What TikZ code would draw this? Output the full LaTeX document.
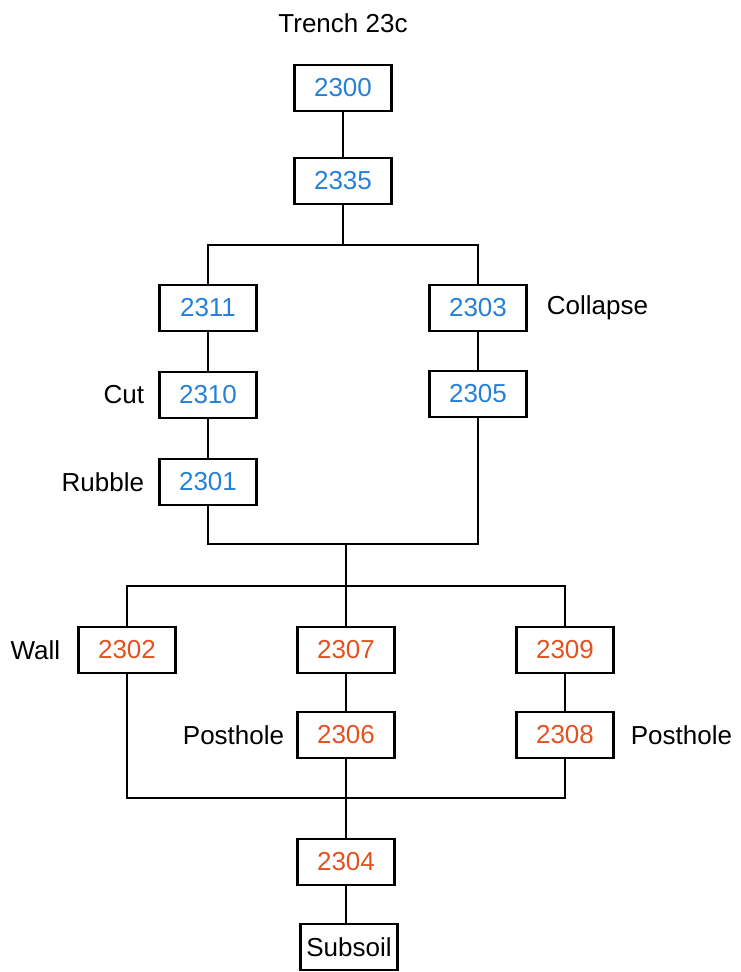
\documentclass[tikz,border=0pt]{standalone}
\usepackage{fontspec}
\setmainfont{Liberation Sans}
\usetikzlibrary{positioning}
\definecolor{ctxblue}{RGB}{38,128,216}
\definecolor{ctxred}{RGB}{226,82,32}
\newcommand*{\bw }{97pt}
\newcommand*{\bh }{46pt}
\newcommand*{\lw }{2.4pt}
\newcommand*{\gap}{13pt}
\tikzset{
    unit/.style    = {draw, line width=\lw, minimum width=\bw, minimum height=\bh, inner sep=0pt},
    blueunit/.style= {unit, text=ctxblue},
    redunit/.style = {unit, text=ctxred},
    note/.style    = {inner sep=0pt}
}

\begin{document}
\begin{tikzpicture}[x=1pt, y=-1pt, font=\fontsize{26}{31}\selectfont, line width=\lw]
        \useasboundingbox (0,0) rectangle (740,972);
        \node [note] (title) at (343, 23) {Trench 23c};
        \node [blueunit] (u2300) at (343, 88) {2300};
        \node [blueunit] (u2335) at (343,181) {2335};
        \node [blueunit] (u2311) at (208,308) {2311};
        \node [blueunit] (u2303) at (478,308) {2303};
        \node [blueunit] (u2310) at (208,395) {2310};
        \node [blueunit] (u2305) at (478,394) {2305};
        \node [blueunit] (u2301) at (208,482) {2301};
        \node [redunit]  (u2302) at (127,650) {2302};
        \node [redunit]  (u2307) at (346,650) {2307};
        \node [redunit]  (u2309) at (565,650) {2309};
        \node [redunit]  (u2306) at (346,735) {2306};
        \node [redunit]  (u2308) at (565,735) {2308};
        \node [redunit]  (u2304) at (346,862) {2304};
        \node [unit]     (subsoil) at (349,947) {Subsoil};
        % side notes
        \node [note, right=18pt of u2303] (collapse) {Collapse};
        \node [note, left=\gap of u2310]  (cut)      {Cut};
        \node [note, left=\gap of u2301]  (rubble)   {Rubble};
        \node [note, left=16pt of u2302]  (wall)     {Wall};
        \node [note, left=11pt of u2306]  (ph2306)   {Posthole};
        \node [note, right=15pt of u2308] (ph2308)   {Posthole};
        % splits and joins
        \coordinate (s1) at (343,245);
        \coordinate (j1) at (346,544);
        \coordinate (s2) at (346,586);
        \coordinate (j2) at (346,798);
        \draw (u2300) -- (u2335) -- (s1);
        \draw (u2311.north) |- (s1) -| (u2303.north);
        \draw (u2311) -- (u2310) -- (u2301);
        \draw (u2303) -- (u2305);
        \draw (u2301.south) |- (j1) -| (u2305.south);
        \draw (j1) -- (s2) -- (u2307);
        \draw (u2302.north) |- (s2) -| (u2309.north);
        \draw (u2307) -- (u2306) -- (j2);
        \draw (u2309) -- (u2308);
        \draw (u2302.south) |- (j2) -| (u2308.south);
        \draw (j2) -- (u2304) -- (subsoil.north -| u2304);
    \end{tikzpicture}
\end{document}
